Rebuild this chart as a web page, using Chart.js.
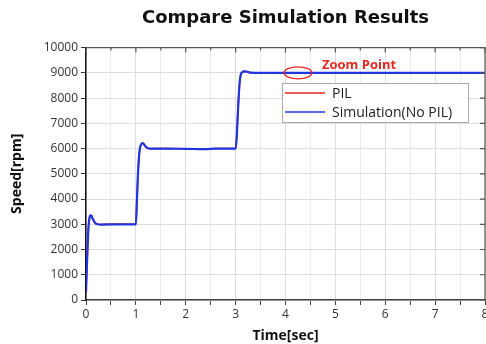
<!DOCTYPE html>
<html>
<head>
<meta charset="utf-8">
<script src="https://cdn.jsdelivr.net/npm/chart.js@4.4.1/dist/chart.umd.min.js"></script>
<style>
  html, body { margin: 0; padding: 0; background: #fff; }
  #wrap { width: 486px; height: 344px; }
</style>
</head>
<body>
<div id="wrap"><canvas id="myChart"></canvas></div>
<script>
// time axis (sec) and speed (rpm)
var timeSec = [0, 0.01, 0.03, 0.05, 0.07, 0.09, 0.11, 0.14, 0.18, 0.23, 0.3, 0.6, 1.0,
  1.02, 1.04, 1.06, 1.08, 1.11, 1.14, 1.18, 1.23, 1.3, 1.6, 2.0, 2.4, 2.6, 3.0,
  3.02, 3.04, 3.06, 3.08, 3.1, 3.13, 3.18, 3.24, 3.3, 3.4, 4, 5, 6, 7, 8];
var pilRpm = [300, 900, 2000, 2900, 3250, 3350, 3330, 3200, 3060, 3000, 2990, 3000, 3000,
  3900, 4900, 5600, 6000, 6180, 6220, 6120, 6020, 5995, 6000, 5990, 5975, 6000, 6000,
  6400, 7200, 8000, 8600, 8900, 9020, 9060, 9040, 9005, 9000, 9000, 9000, 9000, 9000, 9000];
var simRpm = [300, 900, 2000, 2900, 3250, 3350, 3330, 3200, 3060, 3000, 2990, 3000, 3000,
  3900, 4900, 5600, 6000, 6180, 6220, 6120, 6020, 5995, 6000, 5990, 5975, 6000, 6000,
  6400, 7200, 8000, 8600, 8900, 9020, 9060, 9040, 9005, 9000, 9000, 9000, 9000, 9000, 9000];
var seriesNames = ["PIL", "Simulation(No PIL)"];
var seriesColors = ["#e8261f", "#1f35e0"];
var xTicks = [0, 8, 1];       // min, max, step
var yTicks = [0, 10000, 1000];
var zoomPoint = [4.25, 9000];

function pts(ys) {
  return timeSec.map(function (t, i) { return { x: t, y: ys[i] }; });
}

var FONT = "'Open Sans', 'Noto Sans', sans-serif";

// frame, inner ticks on top/right, legend box and zoom-point marker
var extras = {
  id: "extras",
  afterDraw: function (chart) {
    var c = chart.ctx, a = chart.chartArea;
    var xs = chart.scales.x, ys = chart.scales.y;
    c.save();
    c.strokeStyle = "#555";
    c.lineWidth = 1.2;
    c.beginPath();
    c.moveTo(a.left, a.top); c.lineTo(a.right, a.top); c.lineTo(a.right, a.bottom);
    c.stroke();
    c.beginPath();
    xs.ticks.forEach(function (t) {
      var px = xs.getPixelForValue(t.value);
      var len = (t.value % 1 === 0) ? 5 : 3;
      c.moveTo(px, a.top); c.lineTo(px, a.top + len);
    });
    ys.ticks.forEach(function (t) {
      var py = ys.getPixelForValue(t.value);
      var len = (t.value % 1000 === 0) ? 5 : 3;
      c.moveTo(a.right, py); c.lineTo(a.right - len, py);
    });
    c.stroke();

    // zoom point
    var zx = xs.getPixelForValue(zoomPoint[0]), zy = ys.getPixelForValue(zoomPoint[1]);
    c.strokeStyle = "#e8261f";
    c.lineWidth = 1.3;
    c.beginPath();
    c.ellipse(zx, zy, 14, 6, 0, 0, Math.PI * 2);
    c.stroke();
    c.fillStyle = "#e8261f";
    c.font = "bold 13px " + FONT;
    c.textBaseline = "middle";
    c.fillText("Zoom Point", zx + 24, zy - 8);

    // legend
    var lx = 282, ly = 83, lw = 186, lh = 39;
    c.fillStyle = "#fff";
    c.fillRect(lx, ly, lw, lh);
    c.strokeStyle = "#aaa";
    c.lineWidth = 1;
    c.strokeRect(lx + 0.5, ly + 0.5, lw, lh);
    c.font = "14px " + FONT;
    seriesNames.forEach(function (n, i) {
      var y = ly + 10 + i * 19;
      c.strokeStyle = seriesColors[i];
      c.lineWidth = 1.5;
      c.beginPath();
      c.moveTo(lx + 3, y); c.lineTo(lx + 43, y);
      c.stroke();
      c.fillStyle = "#222";
      c.fillText(n, lx + 50, y + 1);
    });
    c.restore();
  }
};

var ctx = document.getElementById("myChart").getContext("2d");
var myChart = new Chart(ctx, {
  type: "line",
  data: {
    datasets: [
      {
        label: seriesNames[0],
        data: pts(pilRpm),
        borderColor: seriesColors[0],
        borderWidth: 1.6,
        pointRadius: 0,
        cubicInterpolationMode: "monotone",
        order: 2
      },
      {
        label: seriesNames[1],
        data: pts(simRpm),
        borderColor: seriesColors[1],
        borderWidth: 2.2,
        pointRadius: 0,
        cubicInterpolationMode: "monotone",
        order: 1
      }
    ]
  },
  options: {
    responsive: true,
    maintainAspectRatio: false,
    animation: false,
    layout: { padding: { top: 2, right: 1, left: 0, bottom: 0 } },
    plugins: {
      legend: { display: false },
      tooltip: { enabled: false },
      title: {
        display: true,
        text: "Compare Simulation Results",
        fullSize: false,
        color: "#111",
        font: { family: "'DejaVu Sans', sans-serif", size: 18, weight: "bold" },
        padding: { top: 6, bottom: 18 }
      }
    },
    scales: {
      x: {
        type: "linear",
        min: xTicks[0],
        max: xTicks[1],
        afterFit: function (s) { s.height = 44; s.paddingLeft = 0; s.paddingRight = 0; },
        border: { color: "#444", width: 1.5 },
        grid: {
          color: function (c) { return c.tick && c.tick.value % 1 === 0 ? "#dedede" : "#ececec"; },
          tickColor: "#444",
          tickLength: 5
        },
        ticks: {
          stepSize: xTicks[2] / 2,
          color: "#333",
          font: { family: FONT, size: 12 },
          padding: 2,
          maxRotation: 0,
          callback: function (v) { return v % 1 === 0 ? v : ""; }
        },
        title: {
          display: true,
          text: "Time[sec]",
          color: "#111",
          font: { family: FONT, size: 14, weight: "bold" },
          padding: { top: 4, bottom: 0 }
        }
      },
      y: {
        min: yTicks[0],
        max: yTicks[1],
        afterFit: function (s) { s.width = 86; s.paddingTop = 0; s.paddingBottom = 0; },
        border: { color: "#111", width: 1.5 },
        grid: {
          color: function (c) { return c.tick && c.tick.value % 1000 === 0 ? "#dedede" : "#ececec"; },
          tickColor: "#333",
          tickLength: 5
        },
        ticks: {
          stepSize: yTicks[2] / 2,
          color: "#333",
          font: { family: FONT, size: 12 },
          padding: 3,
          callback: function (v) { return v % 1000 === 0 ? v : ""; }
        },
        title: {
          display: true,
          text: "Speed[rpm]",
          color: "#111",
          font: { family: FONT, size: 14, weight: "bold" },
          padding: { top: 9, bottom: 4 }
        }
      }
    }
  },
  plugins: [extras]
});
</script>
</body>
</html>
